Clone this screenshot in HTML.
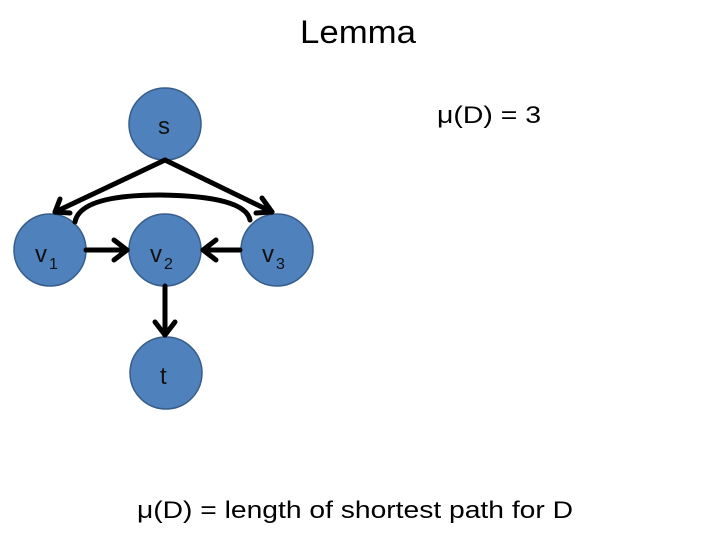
<!DOCTYPE html>
<html><head><meta charset="utf-8"><style>html,body{margin:0;padding:0;background:#fff}svg{display:block}</style></head>
<body>
<svg width="720" height="540" viewBox="0 0 720 540" xmlns="http://www.w3.org/2000/svg" font-family="Liberation Sans, sans-serif">
<text x="300" y="43" font-size="32" textLength="116" lengthAdjust="spacingAndGlyphs">Lemma</text>
<text x="437" y="123" font-size="24" textLength="104" lengthAdjust="spacingAndGlyphs">μ(D) = 3</text>
<text x="137" y="518" font-size="24" textLength="436" lengthAdjust="spacingAndGlyphs">μ(D) = length of shortest path for D</text>
<g fill="#4F81BD" stroke="#385D8A" stroke-width="1.5">
<circle cx="165" cy="124" r="36"/>
<circle cx="50" cy="250" r="36"/>
<circle cx="165" cy="250" r="36"/>
<circle cx="277" cy="250" r="36"/>
<circle cx="166" cy="373" r="36"/>
</g>
<g stroke="#000" stroke-width="5" fill="none" stroke-linecap="round" stroke-linejoin="round">
<path d="M165 160 L55 212"/><path d="M60 199 L55 212 L70 213"/>
<path d="M165 160 L272 212"/><path d="M262 198 L272 212 L256 213"/>
<path d="M75 222 Q80 195 160 195 Q245 196 250 220"/>
<path d="M86 250 L127 250"/><path d="M114 240 L127 250 L114 260"/>
<path d="M240 250 L203 250"/><path d="M216 240 L203 250 L216 260"/>
<path d="M165 286 L165 335"/><path d="M155 322 L165 335 L175 322"/>
</g>
<g font-size="24" fill="#111">
<text x="158" y="134">s</text>
<text x="35" y="262">v</text><text x="49" y="269" font-size="16">1</text>
<text x="150" y="262">v</text><text x="164" y="269" font-size="16">2</text>
<text x="262" y="262">v</text><text x="276" y="269" font-size="16">3</text>
<text x="160" y="384">t</text>
</g>
</svg>
</body></html>
